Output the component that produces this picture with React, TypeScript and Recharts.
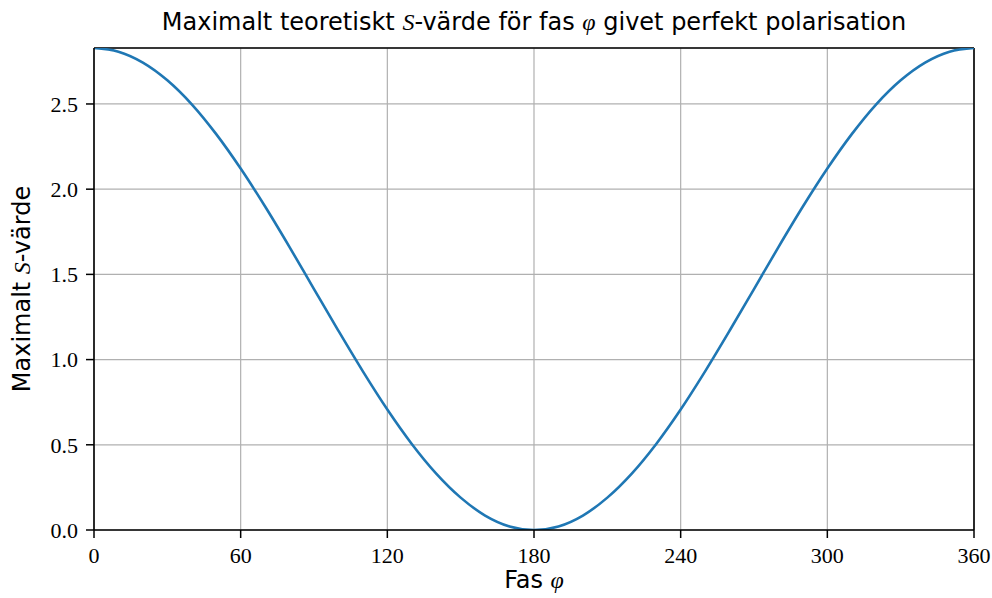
import { LineChart, Line, XAxis, YAxis, CartesianGrid, ReferenceLine } from "recharts";

// phase in degrees, every 10 degrees
const fas = [
  0, 10, 20, 30, 40, 50, 60, 70, 80, 90, 100, 110, 120, 130, 140, 150, 160, 170, 180,
  190, 200, 210, 220, 230, 240, 250, 260, 270, 280, 290, 300, 310, 320, 330, 340, 350, 360,
];
const maxS = [
  2.828, 2.807, 2.743, 2.639, 2.498, 2.323, 2.121, 1.898, 1.66, 1.414, 1.169, 0.931, 0.707,
  0.505, 0.331, 0.19, 0.085, 0.021, 0.0, 0.021, 0.085, 0.19, 0.331, 0.505, 0.707, 0.931,
  1.169, 1.414, 1.66, 1.898, 2.121, 2.323, 2.498, 2.639, 2.743, 2.807, 2.828,
];
const xTicks = [0, 60, 120, 180, 240, 300, 360];
const yTicks = [0, 0.5, 1.0, 1.5, 2.0, 2.5];
const yMax = 2.8284;

const data = fas.map((f, i) => ({ fas: f, s: maxS[i] }));

const sans = "'DejaVu Sans', 'Liberation Sans', sans-serif";
const serif = "'Liberation Serif', 'Times New Roman', serif";
const tickStyle = { fill: "#000", fontFamily: serif, fontSize: 22 };

const MathIt = ({ children }: { children: string }) => (
  <span style={{ fontFamily: serif, fontStyle: "italic" }}>{children}</span>
);

export default function App() {
  return (
    <div style={{ position: "absolute", left: 0, top: 0, width: 992, height: 598, background: "#fff", overflow: "hidden" }}>
      <LineChart
        width={992}
        height={598}
        data={data}
        margin={{ top: 48, right: 18, bottom: 38, left: 34 }}
      >
        <CartesianGrid stroke="#b0b0b0" strokeWidth={1.2} />
        <XAxis
          type="number"
          dataKey="fas"
          domain={[0, 360]}
          ticks={xTicks}
          interval={0}
          height={30}
          tickSize={8}
          tickMargin={9}
          tick={tickStyle}
          tickLine={{ stroke: "#000", strokeWidth: 1.5 }}
          axisLine={{ stroke: "#000", strokeWidth: 1.6 }}
        />
        <YAxis
          type="number"
          domain={[0, yMax]}
          allowDataOverflow
          ticks={yTicks}
          interval={0}
          width={60}
          tickSize={8}
          tickMargin={8}
          tick={tickStyle}
          tickFormatter={(v: number) => v.toFixed(1)}
          tickLine={{ stroke: "#000", strokeWidth: 1.5 }}
          axisLine={{ stroke: "#000", strokeWidth: 1.6 }}
        />
        <ReferenceLine y={yMax} stroke="#000" strokeWidth={1.6} />
        <ReferenceLine x={360} stroke="#000" strokeWidth={1.6} />
        <Line
          type="monotone"
          dataKey="s"
          stroke="#1f77b4"
          strokeWidth={2.6}
          dot={false}
          isAnimationActive={false}
        />
      </LineChart>

      <div
        style={{
          position: "absolute",
          left: 94,
          width: 880,
          top: 8,
          textAlign: "center",
          fontFamily: sans,
          fontSize: 24,
          color: "#000",
          whiteSpace: "nowrap",
        }}
      >
        Maximalt teoretiskt <MathIt>S</MathIt>-värde för fas <MathIt>φ</MathIt> givet perfekt polarisation
      </div>
      <div
        style={{
          position: "absolute",
          left: 94,
          width: 880,
          top: 566,
          textAlign: "center",
          fontFamily: sans,
          fontSize: 24,
          lineHeight: "28px",
          color: "#000",
          whiteSpace: "nowrap",
        }}
      >
        Fas <MathIt>φ</MathIt>
      </div>
      <div
        style={{
          position: "absolute",
          left: 22,
          top: 289,
          transform: "translate(-50%, -50%) rotate(-90deg)",
          fontFamily: sans,
          fontSize: 24,
          color: "#000",
          whiteSpace: "nowrap",
        }}
      >
        Maximalt <MathIt>S</MathIt>-värde
      </div>
    </div>
  );
}
